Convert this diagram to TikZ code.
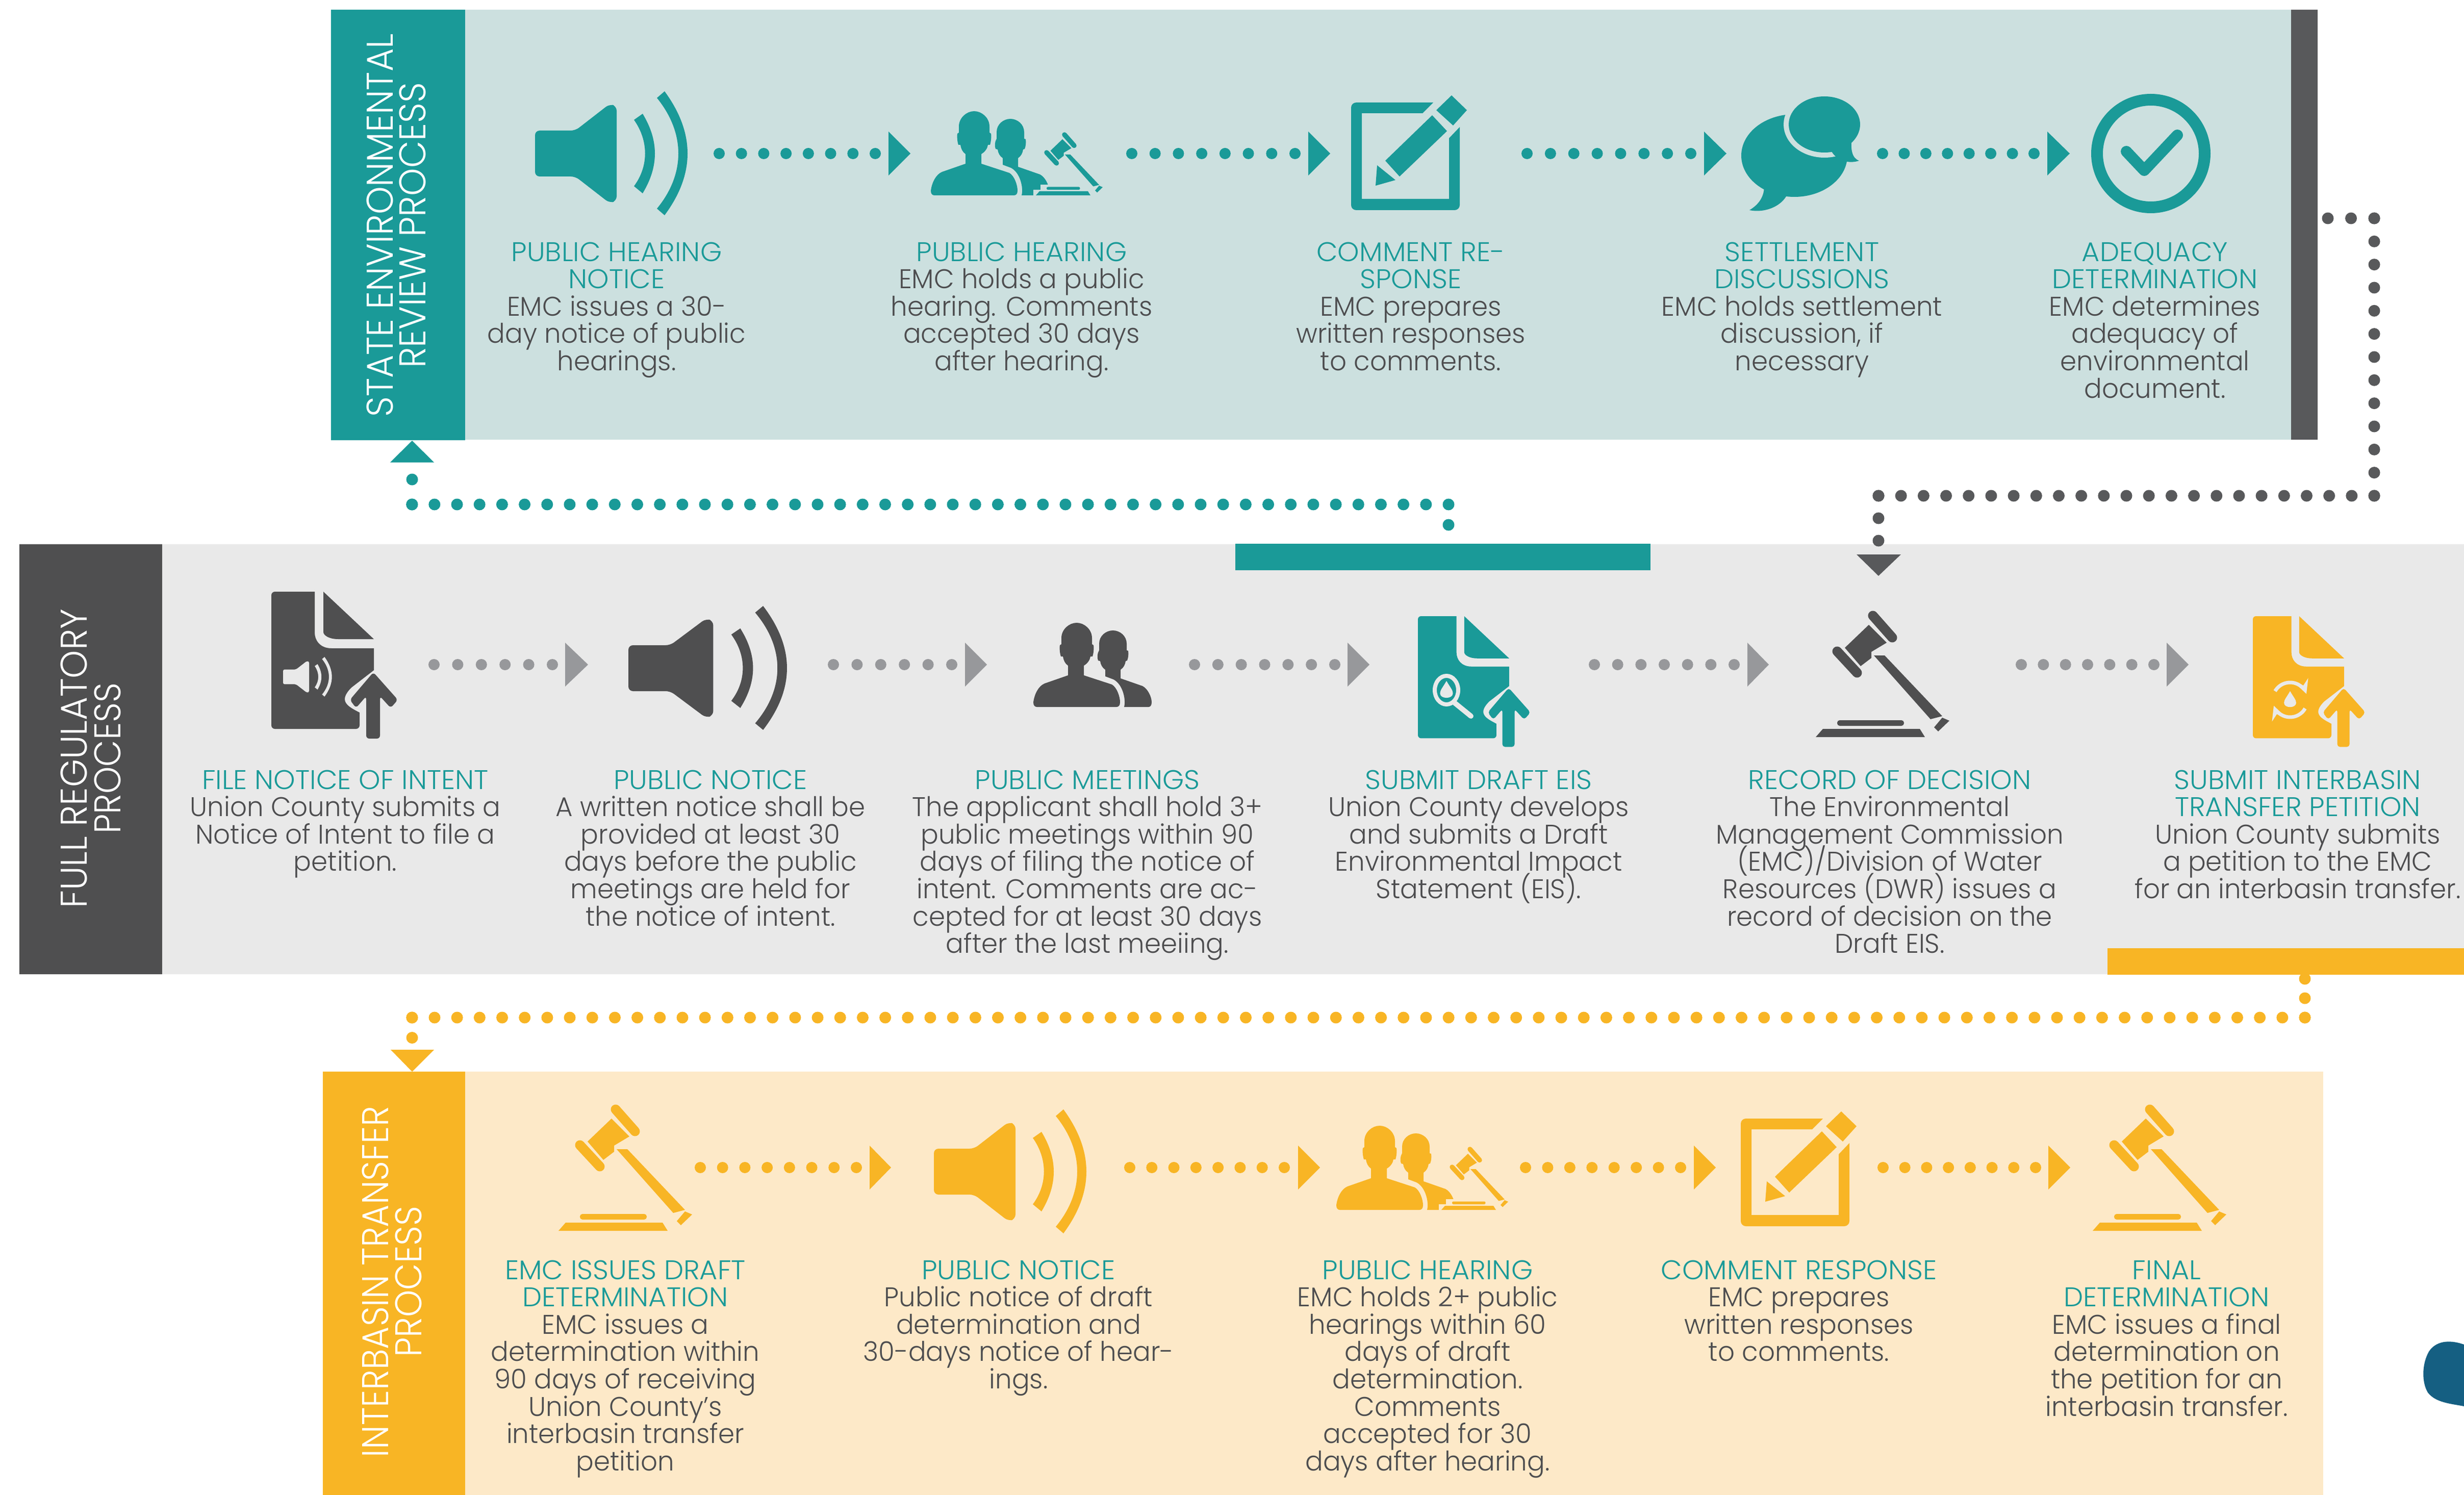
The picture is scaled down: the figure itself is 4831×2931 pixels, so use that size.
\documentclass[tikz,border=0pt]{standalone}
\usepackage{graphicx}
\usepackage{fontspec}
\setmainfont{Poppins}[UprightFont=* Light,FakeStretch=0.972]
\newfontfamily\sidefont{Poppins}[UprightFont=* Light]
\newfontfamily\titlefont{Poppins}[UprightFont=* Light,FakeStretch=1.02]
\normallineskip=0pt
\normallineskiplimit=-100pt
\lineskip=0pt
\lineskiplimit=-100pt
\definecolor{teal}{HTML}{1A9A98}
\definecolor{tealpanel}{HTML}{CCE0DF}
\definecolor{darkbar}{HTML}{4F4F50}
\definecolor{darkdot}{HTML}{58595B}
\definecolor{greypanel}{HTML}{E9E9E9}
\definecolor{greydot}{HTML}{97989B}
\definecolor{amber}{HTML}{F8B525}
\definecolor{amberpanel}{HTML}{FDE9C8}
\definecolor{bodytxt}{HTML}{4D4D4F}
\definecolor{blob}{HTML}{155F82}
\tikzset{
 lab/.style={anchor=north,align=center,inner sep=0pt,text=bodytxt,font=\fontsize{10.6}{10.72}\selectfont},
 side/.style={anchor=base,inner sep=0pt,text=white,rotate=90,font=\sidefont\fontsize{14.6}{16}\selectfont},
 dotleg/.style={line width=4.6pt,line cap=round},
}
\newcommand\ti[1]{\textcolor{teal}{\titlefont #1}}
\newcommand\lbl[4]{\node[lab] (#1) at (#2,#3) {\rule{0pt}{8pt}#4};}
\newcommand\sd[2]{\scalebox{#1}[1]{#2}}
% dotted arrow: name, x1, x2, y, n dots, tip x1, tip x2, half height, colour
\newcommand\dotarrow[9]{%
 \coordinate (#1s) at (#2,#4);
 \coordinate (#1e) at (#3+2,#4);
 \pgfmathsetmacro\dsp{0.2*(#3-#2)/(#5-1)}
 \draw[#9,line width=4.4pt,line cap=round,dash pattern=on 0pt off \dsp pt] (#1s) -- (#1e);
 \fill[#9] (#6,#4-#8) -- (#7,#4) -- (#6,#4+#8) -- cycle;
}
\newcommand\spk[5]{%
 \begin{scope}[shift={(#1,#2)},xscale=#4,yscale=#5]
 \fill[#3,rounded corners=1.8pt] (0,-45) -- (79,-45) -- (146,-97) -- (160,-93) -- (160,93) -- (146,97) -- (79,45) -- (0,45) -- cycle;
 \fill[#3] (211,-78) .. controls (243,-25) and (243,25) .. (211,78) -- (194,64) .. controls (223,25) and (223,-25) .. (194,-66) -- cycle;
 \fill[#3] (254,-122) .. controls (314,-40) and (314,40) .. (254,121) -- (239,108) .. controls (295,40) and (295,-40) .. (239,-109) -- cycle;
 \end{scope}}
\newcommand\gav[4]{%
 \begin{scope}[shift={(#1,#2)},scale=#4]
 \draw[#3,line width=#4*3.8pt,line cap=round] (12,-238) -- (50,-195);
 \draw[#3,line width=#4*3.8pt,line cap=round] (-58,-168) -- (-19,-126);
 \fill[#3] (4,-220) -- (39,-185) -- (9,-167) -- (9,-155) -- (-12,-139) -- (-43,-175) -- cycle;
 \fill[#3] (14,-160) -- (35,-160) -- (148,-41) -- (125,-35) -- cycle;
 \fill[#3] (148,-38) -- (162,-32) -- (140,-11) -- (132,-19) -- cycle;
 \fill[#3,rounded corners=#4*1pt] (-58,-33) rectangle (73,-22);
 \fill[#3] (-86,-16) -- (104,-16) -- (114,0) -- (-100,0) -- cycle;
 \end{scope}}
\newcommand\ppl[3]{%
 \begin{scope}[shift={(#1,#2)}]
 \fill[#3] (141,-60) -- (141,-73) .. controls (135,-77) and (132,-83) .. (131,-90) -- (127,-91) .. controls (125,-96) and (125,-105) .. (129,-111) -- (129,-124) .. controls (129,-139) and (142,-150) .. (156,-150) .. controls (170,-150) and (183,-139) .. (183,-124) -- (183,-111) -- (186,-110) .. controls (187,-103) and (186,-96) .. (184,-91) -- (181,-90) .. controls (180,-83) and (177,-77) .. (171,-73) -- (171,-56) -- (214,-41) .. controls (224,-36) and (232,-20) .. (232,-9) .. controls (232,-3) and (229,0) .. (226,0) -- (178,0) .. controls (182,-15) and (175,-45) .. (157,-54) -- cycle;
 \fill[#3] (68,-62) -- (68,-81) .. controls (62,-85) and (59,-92) .. (58,-99) -- (54,-99) .. controls (52,-105) and (51,-115) .. (52,-121) -- (55,-123) -- (55,-135) .. controls (55,-152) and (70,-165) .. (85,-165) .. controls (100,-165) and (115,-152) .. (115,-135) -- (115,-123) -- (118,-121) .. controls (119,-115) and (118,-105) .. (116,-99) -- (112,-99) .. controls (111,-92) and (106,-85) .. (99,-81) -- (99,-62) -- (154,-44) .. controls (164,-38) and (170,-20) .. (170,-9) .. controls (170,-3) and (167,0) .. (163,0) -- (7,0) .. controls (3,0) and (0,-3) .. (0,-9) .. controls (2,-25) and (10,-41) .. (22,-46) -- cycle;
 \end{scope}}
\newcommand\cmt[3]{%
 \begin{scope}[shift={(#1,#2)}]
 \fill[#3] (161,0) -- (140,21) -- (21,21) -- (21,189) -- (192,189) -- (192,70) -- (213,48) [rounded corners=2pt] -- (213,211) -- (0,211) -- (0,0) [sharp corners] -- cycle;
 \fill[#3] (159,25) -- (188,56) -- (95,145) -- (67,114) -- cycle;
 \fill[#3] (51,123) -- (87,152) -- (48,163) -- cycle;
 \fill[#3] (197,-14) -- (227,15) -- (200,45) -- (167,15) -- cycle;
 \end{scope}}
\newcommand\docu[4]{%
 \begin{scope}[shift={(#1,#2)},scale=#4]
 \fill[#3,rounded corners=#4*1.4pt] (85,0) -- (0,0) -- (0,269) -- (173,269) [sharp corners] -- (173,237) .. controls (150,225) and (130,215) .. (157,188) -- (201,154) -- (201,111) -- (118,111) .. controls (95,111) and (85,95) .. (85,80) -- cycle;
 \fill[#3] (102,0) -- (201,93) -- (131,93) .. controls (112,93) and (102,85) .. (102,79) -- cycle;
 \fill[#3,rounded corners=#4*1.2pt] (200,158) -- (154,212) -- (166,228) -- (186,205) -- (186,288) -- (213,288) -- (213,205) -- (234,228) -- (248,212) -- cycle;
 \end{scope}}
\newcommand\drop[4]{\fill[#4] (#1,#2-#3) .. controls (#1+#3*0.4,#2-#3*0.3) and (#1+#3*0.7,#2) .. (#1+#3*0.7,#2+#3*0.35) .. controls (#1+#3*0.7,#2+#3) and (#1-#3*0.7,#2+#3) .. (#1-#3*0.7,#2+#3*0.35) .. controls (#1-#3*0.7,#2) and (#1-#3*0.4,#2-#3*0.3) .. (#1,#2-#3) -- cycle;}
\begin{document}
\begin{tikzpicture}[x=0.2pt,y=-0.2pt]
\useasboundingbox (0,0) rectangle (4831,2931);
% panels
\fill[tealpanel] (912,19) rectangle (4492,862);
\fill[teal] (649,19) rectangle (912,863);
\fill[darkdot] (4492,19) rectangle (4544,862);
\fill[greypanel] (318,1067) rectangle (4831,1910);
\fill[darkbar] (38,1067) rectangle (318,1910);
\fill[teal] (2422,1066) rectangle (3236,1118);
\fill[amber] (4132,1859) rectangle (4831,1911);
\fill[amberpanel] (912,2101) rectangle (4555,2931);
\fill[amber] (633,2101) rectangle (912,2931);
\fill[blob] (4831,2636) .. controls (4800,2625) and (4775,2630) .. (4762,2650) .. controls (4748,2675) and (4748,2710) .. (4760,2730) .. controls (4775,2750) and (4805,2752) .. (4831,2757) -- cycle;
% side titles
\node[side] (s1a) at (770,442) {\sd{0.953}{STATE ENVIRONMENTAL}};
\node[side] (s1b) at (834,442) {\sd{0.95}{REVIEW PROCESS}};
\node[side] (s2a) at (170,1487) {\sd{0.965}{FULL REGULATORY}};
\node[side] (s2b) at (236,1487) {\sd{0.93}{PROCESS}};
\node[side] (s3a) at (761,2513) {\sd{0.93}{INTERBASIN TRANSFER}};
\node[side] (s3b) at (826,2513) {\sd{0.93}{PROCESS}};
% row 1 arrows
\dotarrow{a1}{1410}{1716}{301}{8}{1742}{1785}{43}{teal}
\dotarrow{a2}{2219}{2539}{301}{8}{2565}{2608}{43}{teal}
\dotarrow{a3}{2994}{3315}{301}{8}{3341}{3385}{43}{teal}
\dotarrow{a4}{3691}{3988}{301}{8}{4014}{4058}{43}{teal}
% row 2 arrows
\dotarrow{b1}{851}{1083}{1303}{6}{1108}{1153}{43}{greydot}
\dotarrow{b2}{1634}{1866}{1303}{6}{1892}{1935}{43}{greydot}
\dotarrow{b3}{2342}{2617}{1303}{7}{2642}{2685}{43}{greydot}
\dotarrow{b4}{3126}{3400}{1303}{7}{3426}{3468}{43}{greydot}
\dotarrow{b5}{3963}{4223}{1303}{7}{4248}{4291}{43}{greydot}
% row 3 arrows
\dotarrow{c1}{1373}{1679}{2289}{8}{1705}{1747}{43}{amber}
\dotarrow{c2}{2215}{2518}{2289}{8}{2545}{2588}{43}{amber}
\dotarrow{c3}{2991}{3295}{2289}{8}{3321}{3364}{43}{amber}
\dotarrow{c4}{3692}{3991}{2289}{8}{4016}{4059}{43}{amber}
% routes
\coordinate (d1) at (4564,428); \coordinate (d2) at (4655.5,428); \coordinate (d2b) at (4655,428); \coordinate (d3) at (4655,973); \coordinate (d3b) at (4655,972); \coordinate (d4) at (3682,972); \coordinate (d4b) at (3683,972); \coordinate (d5) at (3683,1061);
\draw[darkdot,dotleg,dash pattern=on 0pt off 9.1pt] (d1) -- (d2);
\draw[darkdot,dotleg,dash pattern=on 0pt off 9.066pt] (d2b) -- (d3);
\draw[darkdot,dotleg,dash pattern=on 0pt off 8.836pt] (d3b) -- (d4);
\draw[darkdot,dotleg,dash pattern=on 0pt off 8.8pt] (d4b) -- (d5);
\fill[darkdot] (3640,1087) -- (3727,1087) -- (3683,1129) -- cycle;
\coordinate (t1) at (2840,1029); \coordinate (t2) at (2840,989); \coordinate (t3) at (807,989); \coordinate (t3b) at (808,989); \coordinate (t4) at (808,939);
\draw[teal,dotleg,dash pattern=on 0pt off 8pt] (t1) -- (t2);
\draw[teal,dotleg,dash pattern=on 0pt off 8.836pt] (t2) -- (t3);
\draw[teal,dotleg,dash pattern=on 0pt off 9.8pt] (t3b) -- (t4);
\fill[teal] (765,906.5) -- (851,906.5) -- (808,864) -- cycle;
\coordinate (y1) at (4519,1919); \coordinate (y2) at (4519,1995); \coordinate (y2b) at (4519,1996); \coordinate (y3) at (807,1995); \coordinate (y3b) at (808,1995); \coordinate (y4) at (808,2035);
\draw[amber,dotleg,dash pattern=on 0pt off 7.6pt] (y1) -- (y2b);
\draw[amber,dotleg,dash pattern=on 0pt off 8.836pt] (y2) -- (y3);
\draw[amber,dotleg,dash pattern=on 0pt off 7.9pt] (y3b) -- (y4);
\fill[amber] (766,2058) -- (851,2058) -- (808,2101) -- cycle;
% row 1 icons
\spk{1049}{301}{teal}{1}{1}
\ppl{1825}{383}{teal}
\fill[tealpanel] (2026,372) rectangle (2160,384);
\fill[tealpanel] (2040,362) rectangle (2160,373);
\gav{2081}{383}{teal}{0.5}
\cmt{2649}{201}{teal}
\fill[teal] (3518,305) ellipse [x radius=104,y radius=81];
\fill[teal] (3459,367) -- (3502,385) .. controls (3490,405) and (3460,418) .. (3430,412) .. controls (3450,400) and (3458,385) .. (3459,367) -- cycle;
\draw[tealpanel,line width=4pt] (3577,244) ellipse [x radius=70,y radius=55];
\fill[tealpanel] (3577,244) ellipse [x radius=70,y radius=55];
\fill[tealpanel] (3600,305) -- (3660,325) -- (3660,270) -- cycle;
\fill[teal] (3577,244) ellipse [x radius=70,y radius=55];
\fill[teal] (3631,270) .. controls (3628,290) and (3630,310) .. (3645,315) .. controls (3625,322) and (3600,315) .. (3590,295) -- cycle;
\draw[teal,line width=4.6pt] (4217,301) circle [radius=105.5];
\draw[teal,line width=4.4pt,line cap=round,line join=round] (4169,297) -- (4204,334) -- (4269,265);
% row 2 icons
\docu{532}{1160}{darkbar}{1}
\begin{scope}[shift={(555,1327)},scale=0.32]
\fill[greypanel,rounded corners=0.6pt] (0,-45) -- (79,-45) -- (146,-97) -- (160,-93) -- (160,93) -- (146,97) -- (79,45) -- (0,45) -- cycle;
\fill[greypanel] (211,-78) .. controls (243,-25) and (243,25) .. (211,78) -- (194,64) .. controls (223,25) and (223,-25) .. (194,-66) -- cycle;
\fill[greypanel] (254,-122) .. controls (314,-40) and (314,40) .. (254,121) -- (239,108) .. controls (295,40) and (295,-40) .. (239,-109) -- cycle;
\end{scope}
\spk{1232}{1310}{darkbar}{1.04}{1}
\ppl{2026}{1386}{darkbar}
\docu{2780}{1208}{teal}{0.89}
\draw[greypanel,line width=1.6pt] (2836,1353) ellipse [x radius=23,y radius=28];
\draw[greypanel,line width=2pt,line cap=round] (2852,1378) -- (2884,1404);
\drop{2836}{1353}{18}{greypanel}
\gav{3660}{1445}{darkbar}{1}
\docu{4417}{1208}{amber}{0.89}
\begin{scope}[shift={(4490,1372)}]
\draw[greypanel,line width=1.4pt,-stealth] (30:34) arc [start angle=30,end angle=160,radius=34];
\draw[greypanel,line width=1.4pt,-stealth] (210:34) arc [start angle=210,end angle=340,radius=34];
\end{scope}
\drop{4490}{1372}{17}{greypanel}
% row 3 icons
\gav{1195}{2413}{amber}{1}
\spk{1831}{2297}{amber}{1}{1}
\ppl{2620}{2372}{amber}
\fill[amberpanel] (2821,2361) rectangle (2955,2373);
\fill[amberpanel] (2835,2351) rectangle (2955,2362);
\gav{2876}{2372}{amber}{0.5}
\cmt{3413}{2193}{amber}
\gav{4203}{2413}{amber}{1}
% row 1 text
\lbl{l11}{1209}{471}{\ti{PUBLIC HEARING}\\\ti{NOTICE}\\EMC issues a 30-\\day notice of public\\hearings.}
\lbl{l12}{2003}{471}{\ti{PUBLIC HEARING}\\EMC holds a public\\hearing. Comments\\accepted 30 days\\after hearing.}
\lbl{l13}{2766}{471}{\ti{COMMENT RE-}\\\ti{SPONSE}\\EMC prepares\\written responses\\to comments.}
\lbl{l14}{3533}{471}{\ti{SETTLEMENT}\\\ti{DISCUSSIONS}\\EMC holds settlement\\discussion, if\\necessary}
\lbl{l15}{4225}{471}{\ti{ADEQUACY}\\\ti{DETERMINATION}\\EMC determines\\adequacy of\\environmental\\document.}
% row 2 text
\lbl{l21}{677}{1506}{\ti{FILE NOTICE OF INTENT}\\Union County submits a\\Notice of Intent to file a\\petition.}
\lbl{l22}{1393}{1506}{\ti{PUBLIC NOTICE}\\A written notice shall be\\provided at least 30\\days before the public\\meetings are held for\\the notice of intent.}
\lbl{l23}{2132}{1506}{\ti{PUBLIC MEETINGS}\\The applicant shall hold 3+\\public meetings within 90\\days of filing the notice of\\intent. Comments are ac-\\cepted for at least 30 days\\after the last meeiing.}
\lbl{l24}{2899}{1506}{\ti{SUBMIT DRAFT EIS}\\Union County develops\\and submits a Draft\\Environmental Impact\\Statement (EIS).}
\lbl{l25}{3705}{1506}{\ti{RECORD OF DECISION}\\The Environmental\\Management Commission\\(EMC)/Division of Water\\Resources (DWR) issues a\\record of decision on the\\Draft EIS.}
\lbl{l26}{4505}{1506}{\ti{SUBMIT INTERBASIN}\\\ti{TRANSFER PETITION}\\Union County submits\\a petition to the EMC\\for an interbasin transfer.}
% row 3 text
\lbl{l31}{1226}{2467}{\ti{EMC ISSUES DRAFT}\\\ti{DETERMINATION}\\EMC issues a\\determination within\\90 days of receiving\\Union County’s\\interbasin transfer\\petition}
\lbl{l32}{1997}{2467}{\ti{PUBLIC NOTICE}\\Public notice of draft\\determination and\\30-days notice of hear-\\ings.}
\lbl{l33}{2799}{2467}{\ti{PUBLIC HEARING}\\EMC holds 2+ public\\hearings within 60\\days of draft\\determination.\\Comments\\accepted for 30\\days after hearing.}
\lbl{l34}{3527}{2467}{\ti{COMMENT RESPONSE}\\EMC prepares\\written responses\\to comments.}
\lbl{l35}{4248}{2467}{\ti{FINAL}\\\ti{DETERMINATION}\\EMC issues a final\\determination on\\the petition for an\\interbasin transfer.}
\end{tikzpicture}
\end{document}
